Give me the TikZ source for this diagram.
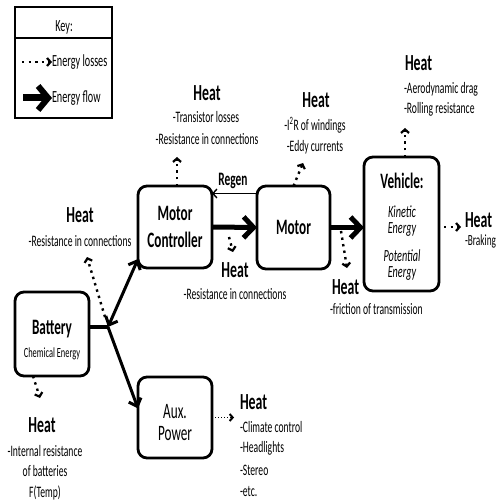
\documentclass[tikz,border=0pt]{standalone}
\usepackage{fontspec}
\setmainfont{Carlito}[FakeStretch=0.6]
\usetikzlibrary{arrows.meta}
\newcommand\fsm{\fontsize{16}{20}\selectfont}
\newcommand\fheat{\fontsize{23}{26}\selectfont\bfseries}
\newcommand\fttl{\fontsize{22}{27}\selectfont\bfseries}
\newcommand\fttr{\fontsize{22}{27}\selectfont}
\newcommand\fita{\fontsize{17}{15.5}\selectfont\itshape}
\newcommand\fchem{\fontsize{14}{16}\selectfont}
\newcommand\fkey{\fontsize{17}{20}\selectfont}
\newcommand\fregen{\fontsize{19}{22}\selectfont\bfseries}
\begin{document}
\begin{tikzpicture}[x=1pt,y=-1pt,
  every node/.style={inner sep=0pt, outer sep=0pt},
  blk/.style={draw, line width=2.8pt, rounded corners=9pt, minimum width=74pt, minimum height=82pt, align=center, font=\fttl},
  txt/.style={anchor=base, font=\fsm},
  txl/.style={anchor=base west, font=\fsm},
  ht/.style={anchor=base, font=\fheat},
  htl/.style={anchor=base west, font=\fheat},
  flow/.style={line width=5pt, -{Straight Barb[length=10pt,width=21pt,line width=5pt]}},
  keyflow/.style={line width=7pt, -{Straight Barb[length=10pt,width=24pt,line width=6pt]}},
  dbl/.style={line width=3pt, {Straight Barb[length=7pt,width=13pt,line width=3pt]}-{Straight Barb[length=7pt,width=13pt,line width=3pt]}},
  sgl/.style={line width=3pt, -{Straight Barb[length=7pt,width=13pt,line width=3pt]}},
  loss/.style={line width=2.4pt, dash pattern=on 2.4pt off 4.2pt, -{Straight Barb[length=3.5pt,width=8pt,line width=2.2pt]}},
  lossthin/.style={line width=1.2pt, dash pattern=on 1.2pt off 1.8pt, -{Straight Barb[length=3pt,width=7pt,line width=2pt]}},
  regen/.style={line width=1.6pt, -{Straight Barb[length=4pt,width=9pt,line width=1.4pt]}}
]
\fill[white] (0,0) rectangle (502,502);
\useasboundingbox (0,0) rectangle (502,502);

% key
\node[draw, line width=1.5pt, minimum width=97pt, minimum height=111pt] (key) at (63.5,62.5) {};
\coordinate (kd) at (0,38);
\draw[line width=2pt] (key.west |- kd) -- (key.east |- kd);
\node[anchor=base, font=\fkey] (keyT) at (64,32) {Key:};
\node[anchor=base west, font=\fkey] (keyL) at (52,67) {Energy losses};
\node[anchor=base west, font=\fkey] (keyF) at (52,103) {Energy flow};
\coordinate (kl1) at (22,62);
\coordinate (kf1) at (23,98);
\draw[loss] (kl1) -- (kl1 -| keyL.west) ;
\draw[keyflow] (kf1) -- (kf1 -| keyF.west);

% blocks
\node[blk] (mc) at (175,227) {Motor\\Controller};
\node[blk, minimum width=73pt, minimum height=83pt] (mot) at (293.5,227.5) {Motor};
\node[blk, minimum width=75pt, minimum height=134pt] (veh) at (401.5,224) {};
\node[blk, minimum height=84pt] (bat) at (52,334) {};
\node[blk, minimum height=81pt] (aux) at (175,417.5) {};

\node[anchor=base, font=\fttl] (vehT) at (402,189) {Vehicle:};
\node[align=center, font=\fita] (vehK) at (402,221) {Kinetic\\Energy};
\node[align=center, font=\fita] (vehP) at (402,265) {Potential\\Energy};
\node[anchor=base, font=\fttl] (batT) at (52,334) {Battery};
\node[anchor=base, font=\fchem] (batC) at (52,357) {Chemical Energy};
\node[anchor=base, font=\fttr] (auxA) at (175,418) {Aux.};
\node[anchor=base, font=\fttr] (auxP) at (175,440) {Power};

% energy flow
\draw[flow] (mc.east) -- (mot.west);
\draw[flow] (mot.east) -- (mot.east -| veh.west);
\draw[regen] ([yshift=34pt]mot.west) coordinate (r1) -- (r1 -| mc.east);
\node[anchor=base, font=\fregen] (regenL) at (233,186) {Regen};
\coordinate (jn) at (108,327);
\draw[line width=4pt] (bat.east |- jn) -- (jn);
\draw[dbl] (jn) -- ([yshift=-32pt]mc.west);
\draw[sgl] (jn) -- ([yshift=9pt]aux.west);

% losses
\coordinate (l1a) at (105,317); \coordinate (l1b) at (87,257);
\draw[loss] (l1a) -- (l1b);
\coordinate (l2b) at (177,157);
\draw[loss] ([xshift=2pt]mc.north) -- (l2b);
\coordinate (l3a) at (229,237); \coordinate (l3b) at (233,252);
\draw[loss] (l3a) -- (l3b);
\coordinate (l4b) at (303,163);
\draw[loss] (mot.north) -- (l4b);
\coordinate (l5a) at (341,231); \coordinate (l5b) at (347,268);
\draw[loss] (l5a) -- (l5b);
\coordinate (l6b) at (405,128);
\draw[loss] ([xshift=3.5pt]veh.north) -- (l6b);
\coordinate (l7b) at (461,227);
\draw[loss] ([xshift=5pt,yshift=-3pt]veh.east) -- (l7b);
\coordinate (l8b) at (40,398);
\draw[loss] ([xshift=-19pt]bat.south) -- (l8b);
\coordinate (l9b) at (234,417.5);
\draw[lossthin] (aux.east) -- (l9b);

% heat labels
\node[ht] (hA) at (80,222.4) {Heat};
\node[txt] (hA1) at (80,246.5) {-Resistance in connections};
\node[ht] (hB) at (207,100.4) {Heat};
\node[txt] (hB1) at (206,122.5) {-Transistor losses};
\node[txt] (hB2) at (207,144.5) {-Resistance in connections};
\node[ht] (hC) at (235,277.4) {Heat};
\node[txt] (hC1) at (235,299.5) {-Resistance in connections};
\node[ht] (hD) at (316,107.4) {Heat};
\node[txt] (hD1) at (315,130.5) {-I\textsuperscript{2}R of windings};
\node[txt] (hD2) at (315,151.5) {-Eddy currents};
\node[htl] (hE) at (332,294.4) {Heat};
\node[txl] (hE1) at (330,314.5) {-friction of transmission};
\node[htl] (hF) at (405,70.4) {Heat};
\node[txl] (hF1) at (404,93.5) {-Aerodynamic drag};
\node[txl] (hF2) at (404,113.5) {-Rolling resistance};
\node[htl] (hG) at (465,227.4) {Heat};
\node[txl, font=\fontsize{15.5}{18}\selectfont] (hG1) at (465,245.5) {-Braking};
\node[ht] (hH) at (42,432.4) {Heat};
\node[txt] (hH1) at (45,456.5) {-Internal resistance};
\node[txt] (hH2) at (45,476.5) {of batteries};
\node[txt] (hH3) at (45,497.5) {F(Temp)};
\node[htl] (hI) at (240,409.4) {Heat};
\node[txl] (hI1) at (240,432.5) {-Climate control};
\node[txl] (hI2) at (240,452.5) {-Headlights};
\node[txl] (hI3) at (240,475.5) {-Stereo};
\node[txl] (hI4) at (240,496.5) {-etc.};
\end{tikzpicture}
\end{document}
